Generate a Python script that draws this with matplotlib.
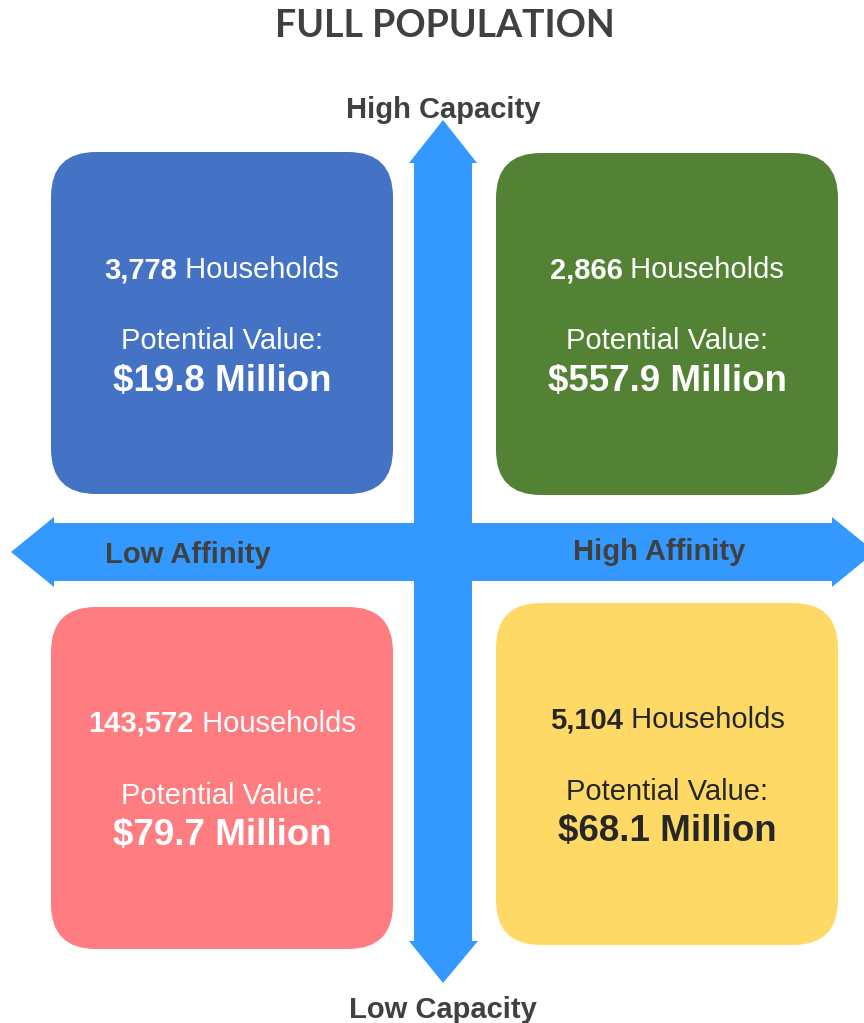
import matplotlib
matplotlib.use("Agg")
import matplotlib.pyplot as plt
from matplotlib.patches import FancyBboxPatch, Polygon

# quadrant data: top-left, top-right, bottom-left, bottom-right
households = ["3,778", "2,866", "143,572", "5,104"]
values = ["$19.8 Million", "$557.9 Million", "$79.7 Million", "$68.1 Million"]
box_colors = ["#4472C4", "#548235", "#FF7C80", "#FFD966"]
text_colors = ["white", "white", "white", "#262626"]
axis_labels = ["High Capacity", "Low Capacity", "Low Affinity", "High Affinity"]
title = "FULL POPULATION"

W, H = 864, 1023
ARROW = "#3399FF"
GREY = "#404040"
FONT = ["Liberation Sans", "DejaVu Sans"]
DY = 3  # va='center' sits a bit high, nudge down

fig = plt.figure(figsize=(W / 100, H / 100), dpi=100)
fig.patch.set_facecolor("white")
ax = fig.add_axes([0, 0, 1, 1])
ax.set_xlim(0, W)
ax.set_ylim(H, 0)
ax.set_aspect("equal")
ax.axis("off")

# --- the cross of arrows ---
vert = [(414, 163), (409, 163), (443, 120), (477, 163), (472, 163),
        (472, 941), (478, 941), (443, 983), (409, 941), (414, 941)]
horiz = [(54, 523), (54, 517), (11, 552), (54, 587), (54, 581),
         (832, 581), (832, 587), (875, 552), (832, 517), (832, 523)]
ax.add_patch(Polygon(vert, closed=True, facecolor=ARROW, edgecolor="none", zorder=1))
ax.add_patch(Polygon(horiz, closed=True, facecolor=ARROW, edgecolor="none", zorder=1))

# --- boxes (x, y top, size) ---
boxes = [(51, 152), (496, 153), (51, 607), (496, 603)]
size = 342
for (bx, by), col in zip(boxes, box_colors):
    ax.add_patch(FancyBboxPatch((bx, by), size, size,
                                boxstyle="round,pad=0,rounding_size=45",
                                facecolor=col, edgecolor="none", zorder=2))

# --- text in the boxes ---
fig.canvas.draw()
renderer = fig.canvas.get_renderer()
inv = ax.transData.inverted()


def width_of(t):
    bb = t.get_window_extent(renderer)
    (x0, _), (x1, _) = inv.transform([(bb.x0, bb.y0), (bb.x1, bb.y0)])
    return x1 - x0


offsets = [(268, 338, 378), (268, 338, 379), (721, 793, 833), (718, 789, 829)]
for (bx, by), hh, val, tc, (y1, y2, y3) in zip(boxes, households, values, text_colors, offsets):
    cx = bx + size / 2
    # bold count + regular word share one baseline
    base = y1 + 10.5
    t_bold = ax.text(0, base, hh, fontsize=21, fontweight="bold", family=FONT,
                     color=tc, ha="left", va="baseline", zorder=3)
    t_reg = ax.text(0, base, " Households", fontsize=21, family=FONT,
                    color=tc, ha="left", va="baseline", zorder=3)
    fig.canvas.draw()
    wb, wr = width_of(t_bold), width_of(t_reg)
    start = cx - (wb + wr) / 2
    t_bold.set_x(start)
    t_reg.set_x(start + wb)
    ax.text(cx, y2 + DY, "Potential Value:", fontsize=21, family=FONT,
            color=tc, ha="center", va="center", zorder=3)
    ax.text(cx, y3 + DY, val, fontsize=26.5, fontweight="bold", family=FONT,
            color=tc, ha="center", va="center", zorder=3)

# --- axis labels ---
label_pos = [(443, 107), (443, 1007), (188, 552), (659, 549)]
for lab, (lx, ly) in zip(axis_labels, label_pos):
    ax.text(lx, ly + DY, lab, fontsize=21, fontweight="bold", family=FONT,
            color=GREY, ha="center", va="center", zorder=3)

ax.text(445, 24 + 2, title, fontsize=27, fontweight="bold", family="Lato",
        color=GREY, ha="center", va="center")

fig.savefig("out.png", dpi=100, facecolor="white")
